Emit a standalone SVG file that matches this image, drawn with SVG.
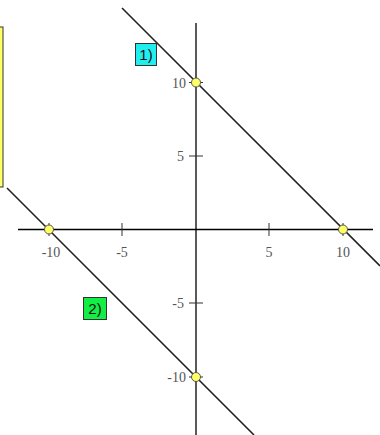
<svg xmlns="http://www.w3.org/2000/svg" width="380" height="435" viewBox="0 0 380 435">
<style>
.axis{stroke:#000;stroke-width:1.3;fill:none}
.tick{stroke:#333;stroke-width:1;fill:none}
.line{stroke:#222;stroke-width:1.6;fill:none}
.lbl{font-family:"Liberation Serif",serif;font-size:14px;fill:#555}
.pt{fill:#ffff66;stroke:#555;stroke-width:1}
.tag{font-family:"Liberation Sans",Arial,sans-serif;font-size:15px;fill:#111}
</style>
<rect width="380" height="435" fill="#fff"/>
<g id="legend"><rect x="-10" y="27" width="13" height="160" fill="#ffff66" stroke="#333" stroke-width="1"/></g>
<g id="axes">
<line class="axis" x1="18" y1="229.5" x2="373" y2="229.5"/>
<line class="axis" x1="196" y1="23" x2="196" y2="435"/>
<line class="tick" x1="49" y1="223" x2="49" y2="236"/>
<line class="tick" x1="122" y1="223" x2="122" y2="236"/>
<line class="tick" x1="269" y1="223" x2="269" y2="236"/>
<line class="tick" x1="343" y1="223" x2="343" y2="236"/>
<line class="tick" x1="189" y1="82.5" x2="203" y2="82.5"/>
<line class="tick" x1="189" y1="156" x2="203" y2="156"/>
<line class="tick" x1="189" y1="303" x2="203" y2="303"/>
<line class="tick" x1="189" y1="377" x2="203" y2="377"/>
<text class="lbl" x="51" y="257" text-anchor="middle">-10</text>
<text class="lbl" x="122" y="257" text-anchor="middle">-5</text>
<text class="lbl" x="269" y="257" text-anchor="middle">5</text>
<text class="lbl" x="343" y="257" text-anchor="middle">10</text>
<text class="lbl" x="186" y="87.5" text-anchor="end">10</text>
<text class="lbl" x="184" y="161" text-anchor="end">5</text>
<text class="lbl" x="184" y="308" text-anchor="end">-5</text>
<text class="lbl" x="186" y="382" text-anchor="end">-10</text>
</g>
<g id="connectors">
<line id="line1" class="line" x1="122" y1="8" x2="380" y2="266"/>
<line id="line2" class="line" x1="7" y1="188" x2="254" y2="435"/>
</g>
<g id="p1"><circle class="pt" cx="196" cy="82.5" r="4.5"/></g>
<g id="p2"><circle class="pt" cx="343" cy="229.5" r="4.5"/></g>
<g id="p3"><circle class="pt" cx="49" cy="229.5" r="4.5"/></g>
<g id="p4"><circle class="pt" cx="196" cy="377" r="4.5"/></g>
<g id="tag1"><rect x="135.5" y="43.5" width="21" height="22" fill="#22eeee" stroke="#333" stroke-width="1"/><text class="tag" x="146" y="60" text-anchor="middle">1)</text></g>
<g id="tag2"><rect x="83.5" y="297.5" width="23" height="22" fill="#11ee44" stroke="#333" stroke-width="1"/><text class="tag" x="95" y="314" text-anchor="middle">2)</text></g>
</svg>
